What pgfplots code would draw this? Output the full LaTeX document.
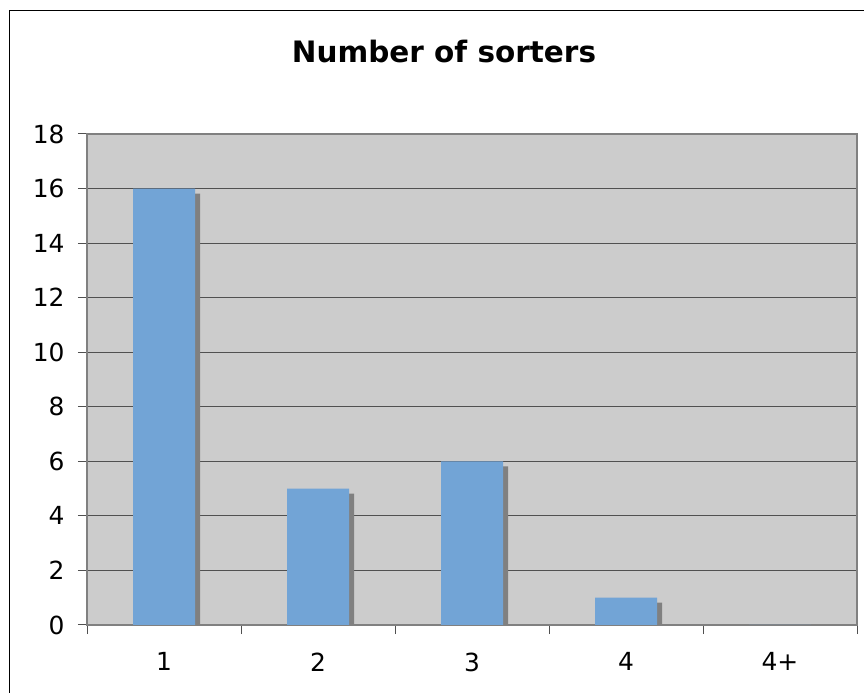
\documentclass[border=0pt]{standalone}
\usepackage{fontspec}
\setmainfont{DejaVu Sans}
\usepackage{pgfplots}
\pgfplotsset{compat=1.18}
\definecolor{plotbg}{RGB}{204,204,204}
\definecolor{barblue}{RGB}{114,164,214}
\definecolor{shadowgray}{RGB}{128,128,128}
\definecolor{gridgray}{RGB}{80,80,80}

\begin{document}
\begin{tikzpicture}
\path[use as bounding box] (0,0) rectangle (864bp,693bp);
\draw[black, line width=1bp] (864bp,682.5bp) -- (9.5bp,682.5bp) -- (9.5bp,0);
\node[font=\fontsize{29.6}{34}\selectfont\bfseries] at (444bp,641bp) {Number of sorters};
\begin{axis}[
  at={(87bp,68bp)}, anchor=south west,
  scale only axis, width=770bp, height=491bp,
  axis background/.style={fill=plotbg},
  ymin=0, ymax=18, ytick={0,2,...,18},
  xmin=-0.5, xmax=4.5,
  xtick={0,1,2,3,4}, xticklabels={1,2,3,4,4+},
  minor xtick={-0.5,0.5,1.5,2.5,3.5,4.5},
  xtick pos=bottom, ytick pos=left,
  major x tick style={draw=none},
  tick align=outside,
  major tick length=9bp, minor tick length=9bp,
  tick style={gridgray, line width=1bp},
  ymajorgrids, grid style={gridgray, line width=1.2bp},
  axis line style={shadowgray, line width=1.5bp},
  tick label style={font=\fontsize{25}{29}\selectfont},
  /pgf/number format/assume math mode=true,
  xticklabel style={yshift=-15bp},
  yticklabel style={xshift=-10bp},
]
\addplot[ybar, bar width=62bp, fill=barblue, draw=none,
  preaction={fill=shadowgray, transform canvas={shift={(5bp,-5bp)}}}]
  coordinates {(0,16) (1,5) (2,6) (3,1) (4,0)};
\end{axis}
\end{tikzpicture}
\end{document}
